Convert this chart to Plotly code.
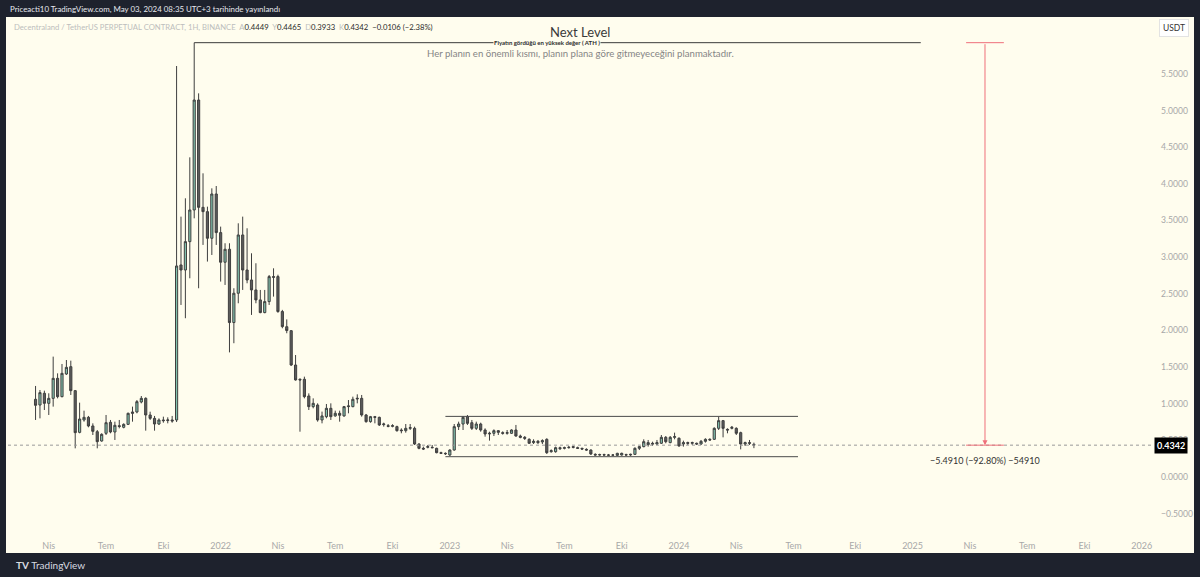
import pandas as pd
import plotly.graph_objects as go

# ---------------- data (weekly candles) ----------------
start_week = "2021-03-15"
opens = [1.060, 0.982, 1.142, 1.005, 1.073, 1.346, 1.096, 1.405, 1.505, 1.178,
         0.609, 0.778, 0.814, 0.696, 0.618, 0.491, 0.596, 0.746, 0.614, 0.700,
         0.678, 0.718, 0.887, 0.887, 1.023, 1.073, 0.846, 0.800, 0.723, 0.778,
         0.770, 0.778, 0.778, 2.893, 2.824, 3.211, 3.643, 5.143, 3.679, 3.620,
         3.257, 3.861, 3.334, 2.930, 3.107, 2.107, 2.507, 3.302, 2.824, 2.688,
         2.552, 2.416, 2.243, 2.393, 2.734, 2.734, 2.257, 2.050, 1.996, 1.528,
         1.333, 1.333, 1.105, 0.960, 0.982, 0.778, 0.823, 0.937, 0.833, 0.869,
         0.833, 0.960, 0.960, 1.064, 1.073, 0.846, 0.755, 0.823, 0.814, 0.714,
         0.700, 0.691, 0.687, 0.641, 0.632, 0.664, 0.664, 0.450, 0.391, 0.405,
         0.405, 0.391, 0.332, 0.323, 0.300, 0.368, 0.687, 0.723, 0.823, 0.741,
         0.664, 0.723, 0.641, 0.587, 0.596, 0.632, 0.605, 0.596, 0.596, 0.641,
         0.559, 0.541, 0.514, 0.469, 0.487, 0.478, 0.514, 0.345, 0.345, 0.400,
         0.391, 0.400, 0.414, 0.400, 0.391, 0.377, 0.368, 0.309, 0.300, 0.305,
         0.300, 0.298, 0.295, 0.300, 0.305, 0.300, 0.309, 0.391, 0.414, 0.441,
         0.460, 0.450, 0.460, 0.541, 0.469, 0.541, 0.528, 0.450, 0.469, 0.460,
         0.460, 0.450, 0.487, 0.514, 0.514, 0.664, 0.769, 0.650, 0.664, 0.664,
         0.605, 0.450, 0.469, 0.4449]
highs = [1.242, 1.187, 1.178, 1.142, 1.642, 1.414, 1.542, 1.596, 1.587, 1.187,
         1.014, 0.905, 0.833, 0.732, 0.641, 0.596, 0.846, 0.778, 0.755, 0.778,
         0.732, 0.878, 0.960, 1.050, 1.105, 1.087, 0.891, 0.833, 0.800, 0.823,
         0.814, 0.833, 5.607, 3.552, 3.802, 4.361, 5.925, 5.234, 4.143, 3.688,
         3.938, 3.970, 3.416, 3.189, 3.189, 2.575, 3.461, 3.552, 3.393, 3.052,
         2.916, 2.552, 2.552, 2.756, 2.847, 2.760, 2.280, 2.150, 2.005, 1.664,
         1.346, 1.369, 1.141, 1.073, 1.005, 0.892, 0.996, 1.005, 0.905, 0.905,
         0.969, 1.050, 1.096, 1.128, 1.119, 0.860, 0.833, 0.833, 0.823, 0.741,
         0.723, 0.720, 0.700, 0.664, 0.723, 0.723, 0.687, 0.460, 0.414, 0.437,
         0.437, 0.400, 0.345, 0.336, 0.378, 0.723, 0.755, 0.832, 0.846, 0.778,
         0.755, 0.741, 0.664, 0.618, 0.650, 0.640, 0.623, 0.641, 0.650, 0.710,
         0.578, 0.559, 0.528, 0.514, 0.505, 0.514, 0.528, 0.377, 0.414, 0.414,
         0.414, 0.423, 0.423, 0.414, 0.400, 0.391, 0.377, 0.323, 0.318, 0.318,
         0.314, 0.312, 0.330, 0.332, 0.318, 0.318, 0.405, 0.423, 0.514, 0.505,
         0.482, 0.505, 0.573, 0.559, 0.559, 0.605, 0.541, 0.496, 0.482, 0.482,
         0.469, 0.505, 0.528, 0.528, 0.678, 0.823, 0.778, 0.664, 0.696, 0.678,
         0.618, 0.482, 0.505, 0.4690]
lows = [0.778, 0.800, 0.914, 0.846, 0.960, 1.073, 1.087, 1.392, 1.119, 0.391,
        0.596, 0.755, 0.678, 0.573, 0.391, 0.482, 0.573, 0.596, 0.505, 0.664,
        0.664, 0.709, 0.755, 0.869, 1.005, 0.632, 0.778, 0.632, 0.709, 0.741,
        0.732, 0.741, 0.750, 2.347, 2.166, 2.711, 3.529, 2.575, 3.166, 2.939,
        3.029, 3.166, 2.666, 2.620, 1.700, 1.825, 2.370, 2.552, 2.643, 2.211,
        2.370, 2.234, 2.234, 2.347, 2.461, 2.240, 2.029, 1.961, 1.514, 1.315,
        0.618, 1.073, 0.914, 0.937, 0.755, 0.732, 0.801, 0.778, 0.823, 0.755,
        0.823, 0.869, 0.951, 1.005, 0.823, 0.741, 0.741, 0.732, 0.696, 0.687,
        0.678, 0.678, 0.618, 0.596, 0.605, 0.641, 0.437, 0.378, 0.368, 0.391,
        0.391, 0.323, 0.314, 0.300, 0.287, 0.359, 0.641, 0.641, 0.710, 0.641,
        0.641, 0.618, 0.550, 0.496, 0.559, 0.573, 0.578, 0.578, 0.587, 0.550,
        0.528, 0.505, 0.450, 0.450, 0.450, 0.450, 0.314, 0.332, 0.332, 0.368,
        0.377, 0.387, 0.391, 0.382, 0.368, 0.359, 0.300, 0.291, 0.291, 0.291,
        0.290, 0.289, 0.290, 0.292, 0.291, 0.288, 0.300, 0.368, 0.405, 0.414,
        0.423, 0.437, 0.450, 0.460, 0.460, 0.514, 0.414, 0.414, 0.437, 0.437,
        0.437, 0.437, 0.469, 0.496, 0.505, 0.641, 0.541, 0.596, 0.650, 0.573,
        0.377, 0.423, 0.437, 0.3933]
closes = [0.978, 1.151, 1.005, 1.073, 1.346, 1.096, 1.414, 1.496, 1.178, 0.605,
          0.791, 0.814, 0.696, 0.623, 0.482, 0.582, 0.741, 0.614, 0.705, 0.690,
          0.718, 0.869, 0.869, 1.028, 1.073, 0.846, 0.800, 0.723, 0.778, 0.769,
          0.778, 0.765, 2.879, 2.824, 3.211, 3.643, 5.143, 3.679, 3.620, 3.257,
          3.861, 3.334, 2.930, 3.107, 2.107, 2.507, 3.302, 2.824, 2.688, 2.552,
          2.416, 2.243, 2.393, 2.734, 2.725, 2.257, 2.052, 1.998, 1.528, 1.324,
          1.324, 1.096, 0.960, 1.005, 0.778, 0.833, 0.937, 0.823, 0.869, 0.842,
          0.960, 0.969, 1.060, 1.073, 0.846, 0.755, 0.823, 0.814, 0.710, 0.723,
          0.691, 0.700, 0.632, 0.632, 0.664, 0.673, 0.450, 0.391, 0.382, 0.414,
          0.400, 0.332, 0.323, 0.318, 0.368, 0.687, 0.723, 0.814, 0.732, 0.664,
          0.723, 0.641, 0.587, 0.596, 0.632, 0.610, 0.596, 0.605, 0.641, 0.559,
          0.541, 0.528, 0.460, 0.487, 0.469, 0.496, 0.332, 0.359, 0.400, 0.387,
          0.400, 0.405, 0.405, 0.391, 0.382, 0.368, 0.314, 0.300, 0.305, 0.300,
          0.298, 0.300, 0.323, 0.323, 0.300, 0.309, 0.391, 0.414, 0.482, 0.469,
          0.450, 0.469, 0.541, 0.482, 0.541, 0.550, 0.423, 0.469, 0.460, 0.469,
          0.450, 0.487, 0.514, 0.505, 0.664, 0.769, 0.664, 0.641, 0.678, 0.596,
          0.450, 0.469, 0.460, 0.4342]
dates = pd.date_range(start_week, periods=len(opens), freq="7D")

tick_dates = ["2021-04-05", "2021-07-05", "2021-10-04", "2022-01-03", "2022-04-04",
              "2022-07-04", "2022-10-03", "2023-01-02", "2023-04-03", "2023-07-03",
              "2023-10-02", "2024-01-01", "2024-04-01", "2024-07-01", "2024-10-07",
              "2025-01-06", "2025-04-07", "2025-07-07", "2025-10-06", "2026-01-05"]
tick_labels = ["Nis", "Tem", "Eki", "2022", "Nis", "Tem", "Eki", "2023", "Nis", "Tem",
               "Eki", "2024", "Nis", "Tem", "Eki", "2025", "Nis", "Tem", "Eki", "2026"]
price_ticks = [-0.5, 0.0, 0.5, 1.0, 1.5, 2.0, 2.5, 3.0, 3.5, 4.0, 4.5, 5.0, 5.5]

ath_price = 5.9252
ath_date = "2021-11-22"
ath_line_end = "2025-01-19"
ath_label_date = "2023-06-05"
last_price = 0.4342
range_top, range_bottom = 0.827, 0.277
range_start, range_end = "2022-12-26", "2024-07-08"
measure_date = "2025-05-01"
measure_cap_half_days = 30
measure_text = "\u22125.4910 (\u221292.80%) \u221254910"

# ---------------- layout calibration ----------------
W, H = 1200, 577
ML, MR, MT, MB = 8, 48, 17, 46
ref_day = pd.Timestamp("2024-01-01")
ref_px, px_per_day = 679.0, 0.6296
plot_w = W - ML - MR
plot_h = H - MT - MB
x_lo = ref_day + pd.Timedelta(days=(ML - ref_px) / px_per_day)
x_hi = ref_day + pd.Timedelta(days=(ML + plot_w - ref_px) / px_per_day)
zero_px, px_per_unit = 477.0, 73.3
y_hi = (zero_px - MT) / px_per_unit
y_lo = (zero_px - (MT + plot_h)) / px_per_unit


def px_to_paper_x(px):
    return (px - ML) / plot_w


def py_to_paper_y(py):
    return (MT + plot_h - py) / plot_h


DARK = "#1e222d"
CREAM = "#fffdee"
FONT = "Lato"
GRAY_TXT = "#bdbdbd"
DARK_TXT = "#2a2a2a"

fig = go.Figure(go.Candlestick(
    x=dates, open=opens, high=highs, low=lows, close=closes,
    increasing=dict(line=dict(color="#3f3f3f", width=1), fillcolor="#82c3ae"),
    decreasing=dict(line=dict(color="#3f3f3f", width=1), fillcolor="#5c5c5c"),
    whiskerwidth=0, showlegend=False, hoverinfo="skip",
))

shapes = [
    dict(type="rect", xref="paper", yref="paper", layer="below",
         x0=px_to_paper_x(6), x1=px_to_paper_x(1194),
         y0=py_to_paper_y(553), y1=py_to_paper_y(17),
         fillcolor=CREAM, line=dict(width=0)),
    dict(type="line", xref="x", yref="y", x0=ath_date, x1=ath_line_end,
         y0=ath_price, y1=ath_price, line=dict(color="#3a3a3a", width=1)),
    dict(type="line", xref="x", yref="y", x0=range_start, x1=range_end,
         y0=range_top, y1=range_top, line=dict(color="#4a4a4a", width=1)),
    dict(type="line", xref="x", yref="y", x0=range_start, x1=range_end,
         y0=range_bottom, y1=range_bottom, line=dict(color="#4a4a4a", width=1)),
    dict(type="line", xref="paper", yref="y", x0=0, x1=1,
         y0=last_price, y1=last_price, line=dict(color="#9a9a9a", width=1, dash="dot")),
]
md = pd.Timestamp(measure_date)
cap = pd.Timedelta(days=measure_cap_half_days)
for yv in (ath_price, last_price):
    shapes.append(dict(type="line", xref="x", yref="y", x0=md - cap, x1=md + cap,
                       y0=yv, y1=yv, line=dict(color="#ef6f7a", width=1)))


def sp(color, txt):
    return f"<span style='color:{color}'>{txt}</span>"


legend_text = (sp(GRAY_TXT, "Decentraland / TetherUS PERPETUAL CONTRACT, 1H, BINANCE  A")
               + sp(DARK_TXT, "0.4449") + sp(GRAY_TXT, "  Y")
               + sp(DARK_TXT, "0.4465") + sp(GRAY_TXT, "  D")
               + sp(DARK_TXT, "0.3933") + sp(GRAY_TXT, "  K")
               + sp(DARK_TXT, "0.4342  \u22120.0106 (\u22122.38%)"))

annotations = [
    dict(xref="paper", yref="paper", x=px_to_paper_x(8), y=py_to_paper_y(9),
         xanchor="left", yanchor="middle", showarrow=False,
         text="Priceacti10 TradingView.com, May 03, 2024 08:35 UTC+3 tarihinde yayınlandı",
         font=dict(family=FONT, size=7.9, color="#e6e8ee")),
    dict(xref="paper", yref="paper", x=px_to_paper_x(12), y=py_to_paper_y(27),
         xanchor="left", yanchor="middle", showarrow=False, text=legend_text,
         font=dict(family=FONT, size=7.7, color=GRAY_TXT)),
    dict(xref="paper", yref="paper", x=0.5, y=py_to_paper_y(32),
         xanchor="center", yanchor="middle", showarrow=False, text="Next Level",
         font=dict(family=FONT, size=13, color="#3a3a3a")),
    dict(xref="x", yref="y", x=ath_label_date, y=ath_price,
         xanchor="center", yanchor="middle", showarrow=False, bgcolor=CREAM,
         borderpad=0,
         text="<b>Fiyatın gördüğü en yüksek değer ( ATH )</b>",
         font=dict(family=FONT, size=6, color="#2a2a2a")),
    dict(xref="paper", yref="paper", x=0.5, y=py_to_paper_y(54),
         xanchor="center", yanchor="middle", showarrow=False,
         text="Her planın en önemli kısmı, planın plana göre gitmeyeceğini planmaktadır.",
         font=dict(family=FONT, size=9.6, color="#858585")),
    dict(xref="x", yref="y", x=md, y=last_price, ax=md, ay=ath_price,
         axref="x", ayref="y", showarrow=True, arrowhead=2, arrowsize=1,
         arrowwidth=1, arrowcolor="#ef6f7a", text=""),
    dict(xref="x", yref="y", x=md, y=last_price, yshift=-15,
         xanchor="center", yanchor="middle", showarrow=False, text=measure_text,
         font=dict(family=FONT, size=9, color="#333333")),
    dict(xref="paper", yref="y", x=1, y=last_price, xshift=2,
         xanchor="left", yanchor="middle", showarrow=False, bgcolor="#000000",
         borderpad=2, text="<b>0.4342</b>",
         font=dict(family=FONT, size=9, color="#ffffff")),
    dict(xref="paper", yref="paper", x=px_to_paper_x(1174), y=py_to_paper_y(28),
         xanchor="center", yanchor="middle", showarrow=False, bgcolor="#ffffff",
         bordercolor="#e3e3e3", borderwidth=1, borderpad=3, text="USDT",
         font=dict(family=FONT, size=8.5, color="#333333")),
    dict(xref="paper", yref="paper", x=px_to_paper_x(14), y=py_to_paper_y(565),
         xanchor="left", yanchor="middle", showarrow=False,
         text="<b>TV</b> TradingView",
         font=dict(family=FONT, size=10, color="#d8dae0")),
]

fig.update_layout(
    width=W, height=H, margin=dict(l=ML, r=MR, t=MT, b=MB, pad=0),
    paper_bgcolor=DARK, plot_bgcolor=CREAM,
    shapes=shapes, annotations=annotations, showlegend=False,
    xaxis=dict(type="date", range=[x_lo, x_hi], rangeslider=dict(visible=False),
               tickvals=tick_dates, ticktext=tick_labels, showgrid=False,
               zeroline=False, showline=False, ticks="", ticklabelstandoff=8,
               tickfont=dict(family=FONT, size=9, color="#a8a8a8")),
    yaxis=dict(side="right", range=[y_lo, y_hi], tickvals=price_ticks,
               ticktext=[("\u2212" if v < 0 else "") + f"{abs(v):.4f}" for v in price_ticks],
               showgrid=False, zeroline=False, showline=False, ticks="",
               ticklabelstandoff=8,
               tickfont=dict(family=FONT, size=8.6, color="#a8a8a8")),
)

fig.write_html("out.html")
